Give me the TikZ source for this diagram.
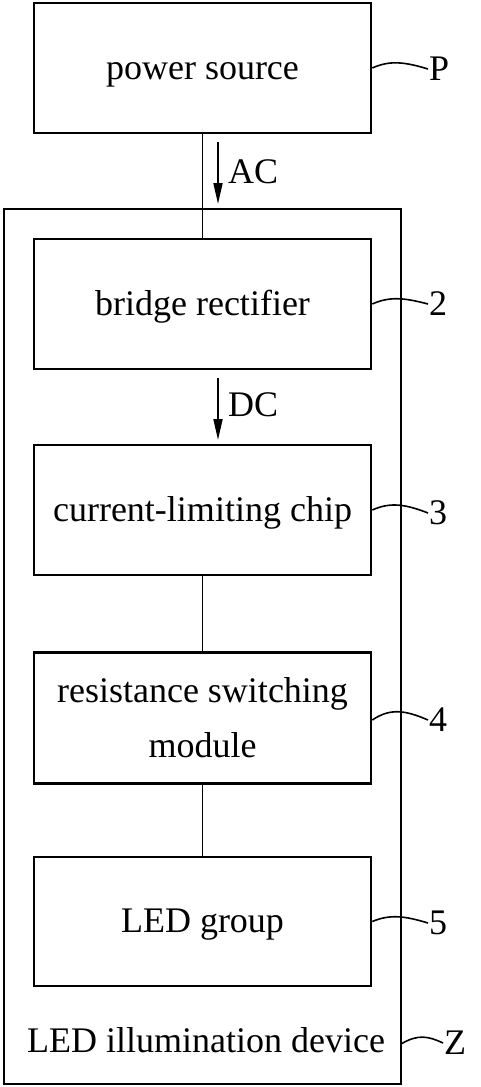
\documentclass[tikz,border=0pt]{standalone}
\usepackage{fontspec}
\setmainfont{Liberation Serif}
\usetikzlibrary{arrows.meta}
\begin{document}
\begin{tikzpicture}[x=1pt,y=-1pt,
  blk/.style={draw,line width=2.6pt,minimum width=337pt,inner sep=0pt,align=center,font=\fontsize{36}{55}\selectfont},
  one/.style={text height=30pt,text depth=8pt},
  frame/.style={draw,line width=2.6pt,minimum width=397pt,minimum height=875pt,inner sep=0pt},
  txt/.style={font=\fontsize{36}{43}\selectfont,inner sep=1pt},
  link/.style={line width=1.8pt},
  arr/.style={line width=1.8pt,-{Triangle[length=21pt,width=9pt]}},
  lead/.style={line width=1.6pt}]
\useasboundingbox (0,0) rectangle (480,1087);
\node[frame] (Z) at (202.5,646.5) {};
\node[blk,one,minimum height=130pt] (power) at (202.5,68) {power source};
\node[blk,one,minimum height=130pt] (bridge) at (202.5,304) {bridge rectifier};
\node[blk,one,minimum height=130pt] (chip) at (202.5,510) {current-limiting chip};
\node[blk,minimum height=131pt] (res) at (202.5,718) {resistance switching\\module};
\node[blk,one,minimum height=129pt] (led) at (202.5,921.5) {LED group};
\node[txt,text height=27pt,text depth=8pt] (zl) at (206,1043) {LED illumination device};
% connectors
\draw[link] (power.south) -- (bridge.north);
\draw[link] (chip.south) -- (res.north);
\draw[link] (res.south) -- (led.north);
% arrows
\coordinate (acs) at (218,142);
\coordinate (ace) at (218,204);
\draw[arr] (acs) -- (ace);
\node[txt,anchor=west] (ac) at (227,172) {AC};
\coordinate (dcs) at (218,378);
\coordinate (dce) at (218,440);
\draw[arr] (dcs) -- (dce);
\node[txt,anchor=west] (dc) at (227,405) {DC};
% reference labels
\node[txt,anchor=west] (lP) at (428,69) {P};
\node[txt,anchor=west] (l2) at (428,304) {2};
\node[txt,anchor=west] (l3) at (428,513) {3};
\node[txt,anchor=west] (l4) at (428,720) {4};
\node[txt,anchor=west] (l5) at (428,923) {5};
\node[txt,anchor=west] (lZ) at (443,1043) {Z};
\draw[lead] (power.east) .. controls (390,60) and (405,62) .. (lP.west);
\draw[lead] (bridge.east) .. controls (390,296) and (405,298) .. (l2.west);
\draw[lead] (chip.east) .. controls (390,502) and (405,504) .. (l3.west);
\draw[lead] ([yshift=-2pt]res.east) .. controls (390,708) and (405,710) .. (l4.west);
\draw[lead] (led.east) .. controls (390,914) and (405,916) .. (l5.west);
\coordinate (zr) at (401,1044);
\draw[lead] (zr) .. controls (418,1034) and (428,1036) .. (lZ.west);
\end{tikzpicture}
\end{document}
